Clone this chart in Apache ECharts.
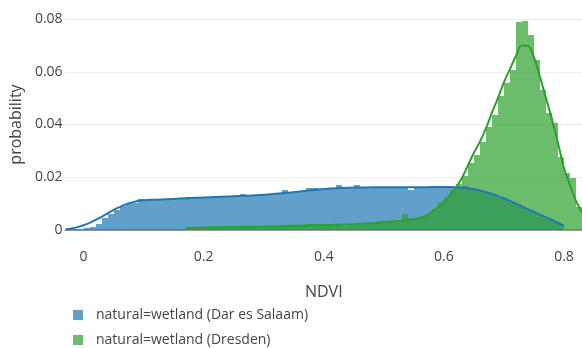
<!DOCTYPE html>
<html>
<head>
<meta charset="utf-8">
<script src="https://cdn.jsdelivr.net/npm/echarts@6/dist/echarts.min.js"></script>
<style>html,body{margin:0;padding:0;background:#fff}#c{width:582px;height:348px}</style>
</head>
<body>
<div id="c"></div>
<script>
// ---- data ----
const BIN_WIDTH = 0.01;
const seriesNames = ['natural=wetland (Dar es Salaam)', 'natural=wetland (Dresden)'];
const xTicks = [0, 0.2, 0.4, 0.6, 0.8];
const yTicks = [0, 0.02, 0.04, 0.06, 0.08];

// histogram bins (bin start values), Dar es Salaam
const darBinStart = -0.03;
const darHist = [
  0.0002, 0.0003, 0.0004, 0.0006, 0.0012, 0.0022, 0.0045, 0.0062, 0.0077, 0.0090,
  0.0100, 0.0104, 0.0116, 0.0112, 0.0113, 0.0112, 0.0114, 0.0115, 0.0116, 0.0119,
  0.0127, 0.0125, 0.0123, 0.0122, 0.0125, 0.0124, 0.0126, 0.0127, 0.0128, 0.0136,
  0.0129, 0.0131, 0.0132, 0.0134, 0.0135, 0.0136, 0.0150, 0.0140, 0.0143, 0.0148,
  0.0160, 0.0158, 0.0150, 0.0157, 0.0160, 0.0172, 0.0161, 0.0160, 0.0172, 0.0162,
  0.0161, 0.0163, 0.0160, 0.0162, 0.0160, 0.0163, 0.0162, 0.0153, 0.0162, 0.0163,
  0.0162, 0.0163, 0.0162, 0.0163, 0.0162, 0.0163, 0.0165, 0.0158, 0.0154, 0.0146,
  0.0140, 0.0131, 0.0123, 0.0115, 0.0103, 0.0094, 0.0085, 0.0074, 0.0063, 0.0053,
  0.0042, 0.0032, 0.0022
];
// Dresden
const dreBinStart = 0.17;
const dreHist = [
  0.0005, 0.0007, 0.0008, 0.0008, 0.0009, 0.0009, 0.0010, 0.0010, 0.0011, 0.0010,
  0.0012, 0.0011, 0.0013, 0.0012, 0.0014, 0.0016, 0.0014, 0.0016, 0.0015, 0.0017,
  0.0022, 0.0021, 0.0019, 0.0020, 0.0016, 0.0018, 0.0017, 0.0019, 0.0024, 0.0028,
  0.0027, 0.0031, 0.0034, 0.0036, 0.0035, 0.0038, 0.0060, 0.0045, 0.0047, 0.0050,
  0.0060, 0.0078, 0.0104, 0.0122, 0.0150, 0.0175, 0.0205, 0.0255, 0.0285, 0.0335,
  0.0392, 0.0436, 0.0509, 0.0559, 0.0607, 0.0787, 0.0793, 0.0740, 0.0643, 0.0531,
  0.0444, 0.0405, 0.0278, 0.0215, 0.0198, 0.0088
];

// density curves [x, y]
const darCurveX = [-0.03,-0.02,-0.01,0.00,0.01,0.02,0.03,0.04,0.05,0.06,0.07,0.08,0.09,0.10,0.12,0.14,0.16,0.18,0.20,0.22,0.24,0.26,0.28,0.30,0.32,0.34,0.36,0.38,0.40,0.42,0.44,0.46,0.48,0.50,0.52,0.54,0.56,0.58,0.60,0.62,0.64,0.66,0.68,0.70,0.72,0.74,0.76,0.78,0.80];
const darCurveY = [0.0003,0.0006,0.0011,0.0018,0.0027,0.0038,0.0050,0.0063,0.0076,0.0087,0.0097,0.0104,0.0110,0.0113,0.0115,0.0117,0.0119,0.0121,0.0123,0.0125,0.0127,0.0129,0.0131,0.0134,0.0137,0.0141,0.0146,0.0151,0.0155,0.0158,0.0160,0.0161,0.0162,0.0162,0.0162,0.0162,0.0162,0.0163,0.0163,0.0162,0.0158,0.0150,0.0137,0.0120,0.0100,0.0079,0.0058,0.0038,0.0016];
const dreCurveX = [0.17,0.20,0.25,0.30,0.35,0.40,0.45,0.48,0.50,0.52,0.54,0.56,0.57,0.58,0.59,0.60,0.61,0.62,0.63,0.64,0.65,0.66,0.67,0.68,0.69,0.70,0.71,0.72,0.73,0.74,0.75,0.76,0.77,0.78,0.79,0.80,0.81,0.82,0.83];
const dreCurveY = [0.0007,0.0009,0.0011,0.0013,0.0016,0.0019,0.0022,0.0026,0.0029,0.0033,0.0038,0.0046,0.0054,0.0068,0.0086,0.0107,0.0131,0.0160,0.0197,0.0245,0.0293,0.0335,0.0385,0.0445,0.0500,0.0560,0.0610,0.0660,0.0700,0.0698,0.0655,0.0580,0.0500,0.0420,0.0330,0.0235,0.0170,0.0110,0.0065];

// ---- build ----
function histData(start, vals) {
  return vals.map((v, i) => [+(start + i * BIN_WIDTH).toFixed(4), v]);
}
function zip(xs, ys) { return xs.map((x, i) => [x, ys[i]]); }

const FONT = '"Open Sans", sans-serif';
const blueFill = 'rgba(31,119,180,0.7)';
const greenFill = 'rgba(44,160,44,0.7)';

function histRender(fill) {
  return function (params, api) {
    const x0 = api.value(0), y = api.value(1);
    const p0 = api.coord([x0, y]);
    const p1 = api.coord([x0 + BIN_WIDTH, 0]);
    const xa = Math.round(p0[0]), xb = Math.round(p1[0]);
    const ya = Math.round(p0[1]), yb = Math.round(p1[1]);
    const rect = echarts.graphic.clipRectByRect(
      { x: xa, y: ya, width: xb - xa, height: yb - ya },
      { x: params.coordSys.x, y: params.coordSys.y, width: params.coordSys.width, height: params.coordSys.height }
    );
    if (!rect) return;
    return { type: 'rect', shape: rect, style: { fill: fill } };
  };
}

const chart = echarts.init(document.getElementById('c'), null, { renderer: 'canvas' });
chart.setOption({
  animation: false,
  textStyle: { fontFamily: FONT },
  grid: { left: 61, right: 0, top: 19, bottom: 118 },
  xAxis: {
    type: 'value', min: -0.03, max: 0.83,
    name: 'NDVI', nameLocation: 'middle', nameGap: 54,
    nameTextStyle: { color: '#444', fontSize: 16, fontFamily: FONT },
    axisLine: { show: true, onZero: true, lineStyle: { color: '#999', width: 2 } },
    axisTick: { show: false },
    splitLine: { show: false },
    axisLabel: {
      color: '#444', fontSize: 14, fontFamily: FONT, margin: 20,
      customValues: xTicks,
      formatter: v => (v === 0 ? '0' : String(v))
    }
  },
  yAxis: {
    type: 'value', min: 0, max: 0.08, interval: 0.02,
    name: 'probability', nameLocation: 'middle', nameGap: 34, nameRotate: 90,
    nameTextStyle: { color: '#444', fontSize: 16, fontFamily: FONT },
    axisLine: { show: false }, axisTick: { show: false },
    splitLine: { show: true, lineStyle: { color: '#eee', width: 1 } },
    axisLabel: {
      color: '#444', fontSize: 14, fontFamily: FONT, margin: 3,
      formatter: v => (v === 0 ? '0' : v.toFixed(2))
    }
  },
  legend: {
    orient: 'vertical', left: 73, top: 308, itemGap: 11, padding: 0,
    width: 300, height: 60,
    itemWidth: 10, itemHeight: 10, icon: 'rect',
    textStyle: { color: '#444', fontSize: 14, fontFamily: FONT, padding: [0, 0, 0, 8] },
    data: seriesNames
  },
  series: [
    { name: seriesNames[0], type: 'custom', renderItem: histRender(blueFill),
      itemStyle: { color: blueFill }, data: histData(darBinStart, darHist), z: 1,
      encode: { x: 0, y: 1 } },
    { name: seriesNames[1], type: 'custom', renderItem: histRender(greenFill),
      itemStyle: { color: greenFill }, data: histData(dreBinStart, dreHist), z: 2,
      encode: { x: 0, y: 1 } },
    { name: 'kde1', type: 'line', smooth: 0.4, showSymbol: false, z: 3,
      lineStyle: { color: '#1f77b4', width: 2 }, itemStyle: { color: '#1f77b4' },
      data: zip(darCurveX, darCurveY) },
    { name: 'kde2', type: 'line', smooth: 0.4, showSymbol: false, z: 4,
      lineStyle: { color: '#2ca02c', width: 2 }, itemStyle: { color: '#2ca02c' },
      data: zip(dreCurveX, dreCurveY) }
  ]
});
</script>
</body>
</html>
